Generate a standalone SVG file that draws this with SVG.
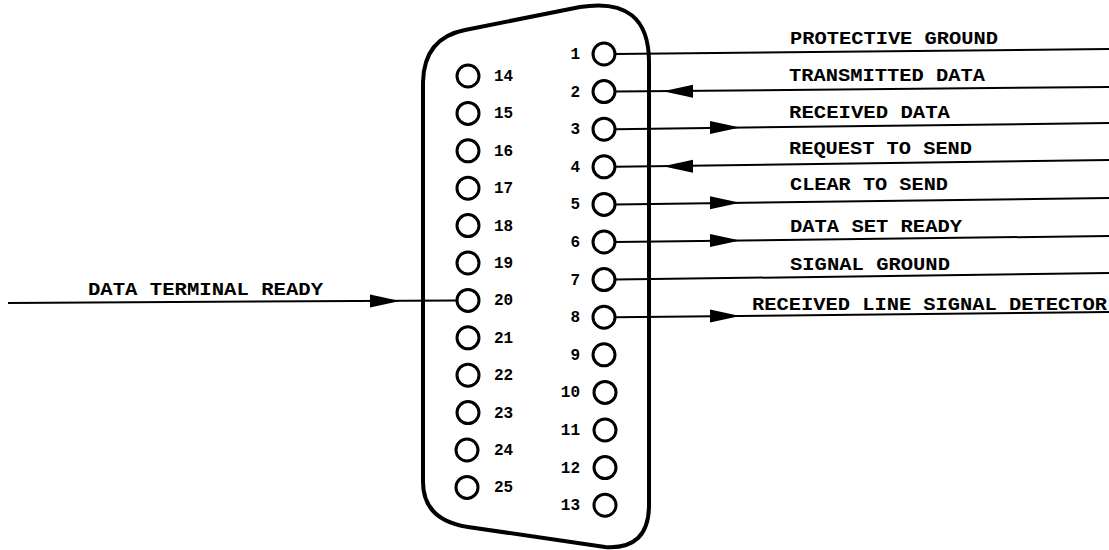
<svg xmlns="http://www.w3.org/2000/svg" width="1109" height="550" viewBox="0 0 1109 550">
<style>
.outline{fill:none;stroke:#000;stroke-width:4;stroke-linejoin:round}
.pin{fill:#fff;stroke:#000;stroke-width:3}
.wire{fill:none;stroke:#000;stroke-width:2}
.num{font-family:"Liberation Mono",monospace;font-weight:bold;font-size:16px;fill:#000}
.lbl{font-family:"Liberation Mono",monospace;font-weight:bold;font-size:18px;fill:#000}
</style>
<defs>
<path id="ah" d="M0,0 L-30,-6.5 L-30,6.5 Z" fill="#000"/>
</defs>
<rect width="1109" height="550" fill="#fff"/>
<g id="connectors">
<line class="wire" x1="615" y1="54" x2="1109" y2="49"/>
<line class="wire" x1="615" y1="91.6" x2="1109" y2="87"/>
<line class="wire" x1="615" y1="129.2" x2="1109" y2="123"/>
<line class="wire" x1="615" y1="166.8" x2="1109" y2="160"/>
<line class="wire" x1="615" y1="204.4" x2="1109" y2="198"/>
<line class="wire" x1="615" y1="242" x2="1109" y2="236"/>
<line class="wire" x1="615" y1="279.6" x2="1109" y2="273"/>
<line class="wire" x1="615" y1="317.2" x2="1109" y2="312"/>
<line class="wire" x1="8" y1="303" x2="457" y2="300.4"/>
<use href="#ah" transform="translate(663,91.2) rotate(180)"/>
<use href="#ah" transform="translate(740,127.6)"/>
<use href="#ah" transform="translate(663,166.2) rotate(180)"/>
<use href="#ah" transform="translate(740,202.8)"/>
<use href="#ah" transform="translate(740,240.5)"/>
<use href="#ah" transform="translate(740,315.9)"/>
<use href="#ah" transform="translate(400,301)"/>
</g>
<g id="shell">
<path class="outline" d="M423,82 Q424,38 465,30 L580,7 Q649,-4 649,62 L649,505 Q649,550 605,547 L468,527 Q423,520 423,482 Z"/>
</g>
<g id="pins-right">
<circle class="pin" cx="604" cy="54" r="11"/><text class="num" x="580" y="59" text-anchor="end">1</text>
<circle class="pin" cx="604" cy="91.6" r="11"/><text class="num" x="580" y="96.6" text-anchor="end">2</text>
<circle class="pin" cx="604" cy="129.2" r="11"/><text class="num" x="580" y="134.2" text-anchor="end">3</text>
<circle class="pin" cx="604" cy="166.8" r="11"/><text class="num" x="580" y="171.8" text-anchor="end">4</text>
<circle class="pin" cx="604" cy="204.4" r="11"/><text class="num" x="580" y="209.4" text-anchor="end">5</text>
<circle class="pin" cx="604" cy="242" r="11"/><text class="num" x="580" y="247" text-anchor="end">6</text>
<circle class="pin" cx="604" cy="279.6" r="11"/><text class="num" x="580" y="284.6" text-anchor="end">7</text>
<circle class="pin" cx="604" cy="317.2" r="11"/><text class="num" x="580" y="322.2" text-anchor="end">8</text>
<circle class="pin" cx="604" cy="354.8" r="11"/><text class="num" x="580" y="359.8" text-anchor="end">9</text>
<circle class="pin" cx="605" cy="392.4" r="11"/><text class="num" x="580" y="397.4" text-anchor="end">10</text>
<circle class="pin" cx="605" cy="430" r="11"/><text class="num" x="580" y="435" text-anchor="end">11</text>
<circle class="pin" cx="605" cy="467.6" r="11"/><text class="num" x="580" y="472.6" text-anchor="end">12</text>
<circle class="pin" cx="605" cy="505.2" r="11"/><text class="num" x="580" y="510.2" text-anchor="end">13</text>
</g>
<g id="pins-left">
<circle class="pin" cx="468" cy="76" r="11"/><text class="num" x="494" y="81">14</text>
<circle class="pin" cx="468" cy="113.4" r="11"/><text class="num" x="494" y="118.4">15</text>
<circle class="pin" cx="468" cy="150.8" r="11"/><text class="num" x="494" y="155.8">16</text>
<circle class="pin" cx="468" cy="188.2" r="11"/><text class="num" x="494" y="193.2">17</text>
<circle class="pin" cx="468" cy="225.6" r="11"/><text class="num" x="494" y="230.6">18</text>
<circle class="pin" cx="468" cy="263" r="11"/><text class="num" x="494" y="268">19</text>
<circle class="pin" cx="468" cy="300.4" r="11"/><text class="num" x="494" y="305.4">20</text>
<circle class="pin" cx="468" cy="337.8" r="11"/><text class="num" x="494" y="342.8">21</text>
<circle class="pin" cx="468" cy="375.2" r="11"/><text class="num" x="494" y="380.2">22</text>
<circle class="pin" cx="468" cy="412.6" r="11"/><text class="num" x="494" y="417.6">23</text>
<circle class="pin" cx="467" cy="450" r="11"/><text class="num" x="494" y="455">24</text>
<circle class="pin" cx="467" cy="487.4" r="11"/><text class="num" x="494" y="492.4">25</text>
</g>
<g id="labels">
<text class="lbl" x="790" y="44" textLength="208" lengthAdjust="spacingAndGlyphs">PROTECTIVE GROUND</text>
<text class="lbl" x="789" y="81" textLength="196" lengthAdjust="spacingAndGlyphs">TRANSMITTED DATA</text>
<text class="lbl" x="789" y="118" textLength="161" lengthAdjust="spacingAndGlyphs">RECEIVED DATA</text>
<text class="lbl" x="789" y="154" textLength="183" lengthAdjust="spacingAndGlyphs">REQUEST TO SEND</text>
<text class="lbl" x="790" y="190" textLength="158" lengthAdjust="spacingAndGlyphs">CLEAR TO SEND</text>
<text class="lbl" x="790" y="232" textLength="172" lengthAdjust="spacingAndGlyphs">DATA SET READY</text>
<text class="lbl" x="790" y="270" textLength="160" lengthAdjust="spacingAndGlyphs">SIGNAL GROUND</text>
<text class="lbl" x="752" y="310" textLength="355" lengthAdjust="spacingAndGlyphs">RECEIVED LINE SIGNAL DETECTOR</text>
<text class="lbl" x="88" y="295" textLength="235" lengthAdjust="spacingAndGlyphs">DATA TERMINAL READY</text>
</g>
</svg>
